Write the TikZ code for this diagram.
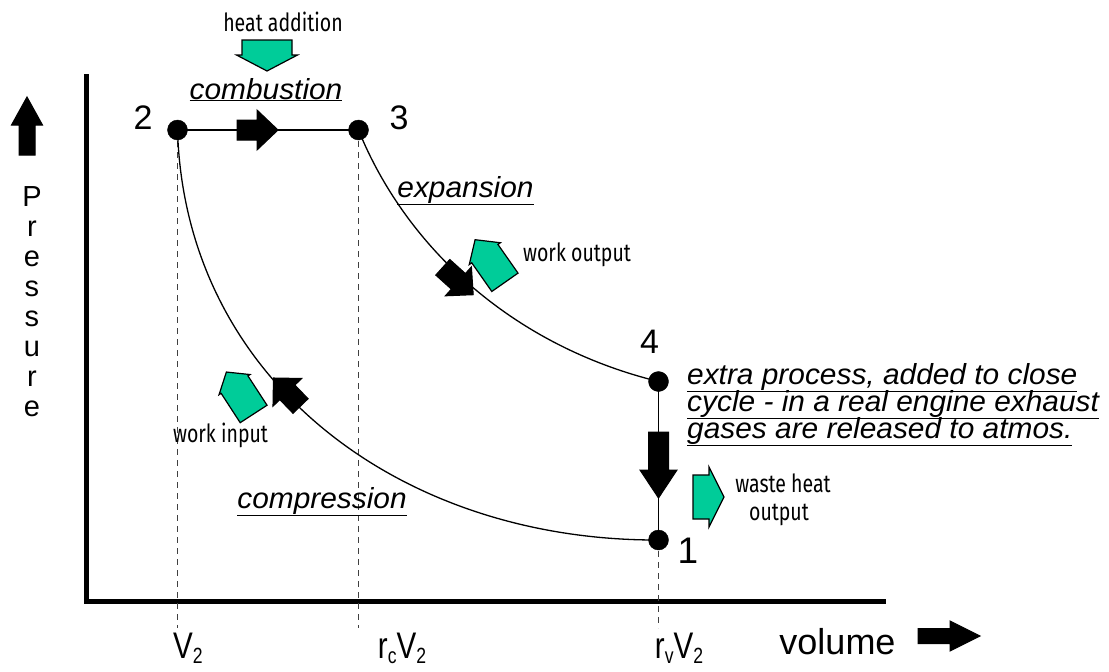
\documentclass[tikz,border=0pt]{standalone}
\usepackage{fontspec}
\setmainfont{Liberation Sans}
\newfontfamily\handfont[FakeStretch=0.78]{Fira Sans}
\newfontfamily\procfont[FakeStretch=1.03]{Liberation Sans}
\newfontfamily\tickfont[FakeStretch=0.8]{Liberation Sans}
\definecolor{heatgreen}{RGB}{0,204,153}
% #1 name, #2 style, #3 centre, #4 angle, #5 length, #6 shaft width, #7 head width, #8 head length
\newcommand{\fatarrow}[8]{%
  \begin{scope}[shift={#3},rotate=#4]
    \coordinate (#1) at (0,0);
    \draw[#2] ({-#5/2},{-#6/2}) -- ({#5/2-#8},{-#6/2}) -- ({#5/2-#8},{-#7/2})
      -- ({#5/2},0) -- ({#5/2-#8},{#7/2}) -- ({#5/2-#8},{#6/2}) -- ({-#5/2},{#6/2}) -- cycle;
  \end{scope}}
\newcommand{\lowidx}[1]{\raisebox{-5pt}{\fontsize{22}{22}\selectfont #1}}
\begin{document}
\begin{tikzpicture}[x=1pt,y=-1pt,
  blk/.style={draw=black,fill=black,line width=1pt,line join=miter},
  grn/.style={draw=black,fill=heatgreen,line width=1.2pt,line join=miter},
  dot/.style={circle,fill=black,draw=black,inner sep=0pt,minimum size=20pt},
  num/.style={font=\fontsize{34}{34}\selectfont,inner sep=0pt},
  proc/.style={font=\procfont\itshape\fontsize{29}{27}\selectfont,inner sep=0pt},
  hand/.style={font=\handfont\fontsize{25}{28}\selectfont,inner sep=0pt},
  tick/.style={font=\tickfont\fontsize{37}{37}\selectfont,inner sep=0pt,anchor=base},
  guide/.style={line width=0.8pt,dash pattern=on 6pt off 5pt,black!75},
  curve/.style={line width=1.3pt}]
\useasboundingbox (0,0) rectangle (1109,672);
% axes
\coordinate (ytop) at (86,74);
\coordinate (origin) at (86,601);
\coordinate (xend) at (886,601);
\draw[line width=5pt] (ytop) -- (origin) -- (xend);
% state points (positions)
\coordinate (c2) at (177.5,130);
\coordinate (c3) at (358.5,130);
\coordinate (c4) at (658.5,381.5);
\coordinate (c1) at (658.5,540);
% guides
\coordinate (g2) at (177.5,628);
\coordinate (g3) at (358.5,628);
\coordinate (g1) at (658.5,628);
\draw[guide] (c2) -- (g2);
\draw[guide] (c3) -- (g3);
\draw[guide] (c1) -- (g1);
% processes
\draw[curve] (c2) -- (c3);
\draw[curve] (c3) .. controls (405,245) and (510,345) .. (c4);
\draw[curve] (c4) -- (c1);
\draw[curve] (c2) .. controls (185,380) and (400,541) .. (c1);
\node[dot] (p2) at (c2) {};
\node[dot] (p3) at (c3) {};
\node[dot] (p4) at (c4) {};
\node[dot] (p1) at (c1) {};
\node[num] (l2) at (143,117.5) {2};
\node[num] (l3) at (399,117.5) {3};
\node[num] (l4) at (649.5,341.5) {4};
\node[num,font=\fontsize{37}{37}\selectfont] (l1) at (688,551) {1};
% black process arrows
\fatarrow{a23}{blk}{(257.5,130)}{0}{41}{20}{40}{21}
\fatarrow{a34}{blk}{(458,281)}{-42}{41}{21}{39}{20}
\fatarrow{a41}{blk}{(658.5,465)}{-90}{66}{20}{37}{28}
\fatarrow{a12}{blk}{(287,392)}{134}{39}{21}{40}{20}
% green arrows
\fatarrow{gq}{grn}{(267,55.5)}{-90}{31}{50}{61}{16}
\fatarrow{gw1}{grn}{(490,261)}{125}{52}{32}{38}{17}
\fatarrow{gw2}{grn}{(240,393)}{123}{50}{32}{37}{15}
\fatarrow{gh}{grn}{(708.5,497)}{0}{31}{44}{60}{15}
% labels
\node[hand] (tq) at (283,22) {heat addition};
\node[proc,anchor=base] (tcomb) at (266,99) {\underline{combustion}};
\node[proc,anchor=base] (texp) at (465.5,197) {\underline{expansion}};
\node[hand,anchor=base] (two) at (577,261) {work output};
\node[hand,anchor=base] (twi) at (220.5,442) {work input};
\node[proc,anchor=base] (tcomp) at (322,508) {\underline{compression}};
\node[proc,anchor=base west] (textra1) at (687,384) {\underline{extra process, added to close}};
\node[proc,anchor=base west] (textra2) at (687,411) {\underline{cycle - in a real engine exhaust}};
\node[proc,anchor=base west] (textra3) at (687,438) {\underline{gases are released to atmos.}};
\node[hand,anchor=base] (twaste1) at (783,492) {waste heat};
\node[hand,anchor=base] (twaste2) at (779,520) {output};
% axis labels
\node[tick] (v2) at (188,658) {V\lowidx{2}};
\node[tick] (rc) at (402,658) {r\lowidx{c}V\lowidx{2}};
\node[tick] (rv) at (679,658) {r\lowidx{v}V\lowidx{2}};
\node[font=\fontsize{36}{36}\selectfont,inner sep=0pt,anchor=base] (vol) at (837.5,654) {volume};
\fatarrow{avol}{blk}{(949,636)}{0}{62}{15}{30}{30}
\node[font=\fontsize{29}{30}\selectfont,align=center,inner sep=0pt] (pres) at (32,302)
  {P\\r\\e\\s\\s\\u\\r\\e};
\fatarrow{apres}{blk}{(27,126)}{90}{58}{16}{31}{28}
\end{tikzpicture}
\end{document}
